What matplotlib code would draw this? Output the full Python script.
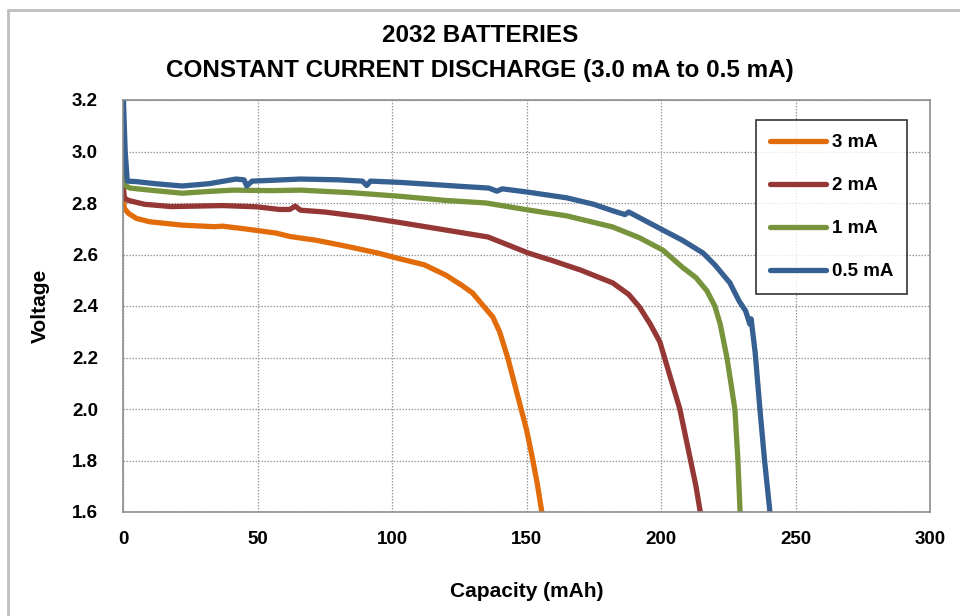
import matplotlib
matplotlib.use('Agg')
import matplotlib.pyplot as plt
from matplotlib.patches import Rectangle

# ---------------------------------------------------------------------------
# DATA

cap_3ma = [0, 0.5, 2, 5, 10, 22, 34, 37, 45, 57, 62, 72, 84, 95, 103, 112, 120,
           126, 130, 134, 137.5, 140, 143, 146, 148, 150, 152, 154, 155.7]
volt_3ma = [2.82, 2.78, 2.76, 2.74, 2.727, 2.714, 2.708, 2.71, 2.70, 2.683, 2.67,
            2.655, 2.63, 2.605, 2.583, 2.56, 2.52, 2.48, 2.45, 2.40, 2.357, 2.30,
            2.20, 2.08, 2.0, 1.92, 1.82, 1.71, 1.6]

cap_2ma = [0, 0.5, 2, 8, 18, 37, 50, 58, 62, 64, 66, 75, 90, 103, 120, 135.7,
           150.6, 160, 170, 182, 188, 192, 196, 199.6, 203, 207, 209, 211, 213, 214.6]
volt_2ma = [2.88, 2.82, 2.81, 2.795, 2.786, 2.79, 2.785, 2.775, 2.775, 2.788, 2.772,
            2.765, 2.745, 2.724, 2.695, 2.668, 2.606, 2.575, 2.54, 2.49, 2.445, 2.396,
            2.33, 2.26, 2.14, 2.0, 1.9, 1.8, 1.7, 1.6]

cap_1ma = [0, 0.5, 2.6, 10, 22, 32, 41, 55, 66, 85, 103, 120, 135, 150.6, 165,
           182, 192, 200.7, 208, 213, 217, 220, 222, 224.5, 226, 227.5, 228.6, 229.4]
volt_1ma = [2.93, 2.87, 2.858, 2.85, 2.838, 2.845, 2.85, 2.848, 2.85, 2.84, 2.826,
            2.81, 2.80, 2.773, 2.75, 2.707, 2.665, 2.617, 2.55, 2.51, 2.46, 2.40,
            2.33, 2.20, 2.10, 1.996, 1.8, 1.6]

cap_05ma = [0, 0.8, 1.6, 5, 12, 22, 32, 42, 45, 46, 48, 55, 66, 80, 89, 90.6, 92,
            103, 115, 125, 136, 139, 141, 150, 165, 175, 182, 186.6, 188, 200.7,
            208, 215.6, 220, 225.6, 229, 231.5, 233, 233.5, 235, 236.8, 238.5,
            239.5, 240.5]
volt_05ma = [3.25, 3.0, 2.885, 2.883, 2.875, 2.866, 2.875, 2.893, 2.89, 2.866, 2.885,
             2.888, 2.893, 2.89, 2.885, 2.868, 2.885, 2.88, 2.872, 2.865, 2.858, 2.846,
             2.855, 2.843, 2.82, 2.795, 2.77, 2.755, 2.765, 2.695, 2.655, 2.606, 2.56,
             2.49, 2.42, 2.38, 2.33, 2.35, 2.22, 1.996, 1.8, 1.7, 1.6]

labels = ['3 mA', '2 mA', '1 mA', '0.5 mA']
colors = ['#e36c0a', '#953735', '#77933c', '#376092']

x_ticks = [0, 50, 100, 150, 200, 250, 300]
y_ticks = [1.6, 1.8, 2.0, 2.2, 2.4, 2.6, 2.8, 3.0, 3.2]

# ---------------------------------------------------------------------------
# PLOT

plt.rcParams['font.family'] = ['Liberation Sans Narrow', 'Liberation Sans', 'DejaVu Sans']
plt.rcParams['font.weight'] = 'bold'

fig = plt.figure(figsize=(9.6, 6.16), dpi=100)
ax = fig.add_axes([123 / 960, 104 / 616, 807 / 960, 412 / 616])

# outer chart border (Excel chart area), runs off the right and bottom edges
top = 1 - 10 / 616
fig.patches.append(Rectangle((8 / 960, -0.05), 1.2, top + 0.05,
                             transform=fig.transFigure, fill=False,
                             edgecolor='#bfbfbf', linewidth=2))

series = [(cap_3ma, volt_3ma), (cap_2ma, volt_2ma), (cap_1ma, volt_1ma), (cap_05ma, volt_05ma)]
for (cap, volt), lab, col in zip(series, labels, colors):
    ax.plot(cap, volt, color=col, linewidth=3.8, label=lab,
            solid_joinstyle='round', solid_capstyle='round')

ax.set_xlim(0, 300)
ax.set_ylim(1.6, 3.2)
ax.set_xticks(x_ticks)
ax.set_yticks(y_ticks)
ax.set_yticklabels([f'{v:.1f}' for v in y_ticks])
ax.tick_params(axis='both', length=0, labelsize=13.5)
ax.tick_params(axis='x', pad=14)
ax.tick_params(axis='y', pad=18)
ax.grid(True, color='#9a9a9a', linestyle=(0, (1.2, 1.2)), linewidth=0.9)

for s in ax.spines.values():
    s.set_color('#8c8c8c')
    s.set_linewidth(1.2)

ax.set_xlabel('Capacity (mAh)', fontsize=15, fontweight='bold', labelpad=24)
ax.set_ylabel('Voltage', fontsize=15, fontweight='bold', labelpad=16)

fig.text(0.5, 1 - 35 / 616, '2032 BATTERIES', ha='center', va='center',
         fontsize=17.5, fontweight='bold')
fig.text(0.5, 1 - 70 / 616, 'CONSTANT CURRENT DISCHARGE (3.0 mA to 0.5 mA)',
         ha='center', va='center', fontsize=17.5, fontweight='bold')

leg = ax.legend(loc='upper right', bbox_to_anchor=(907 / 960, 1 - 120 / 616),
                bbox_transform=fig.transFigure, fontsize=13.5, frameon=True,
                fancybox=False, edgecolor='black', handlelength=3.0,
                labelspacing=1.38, borderpad=0.75, handletextpad=0.3,
                borderaxespad=0)
leg.get_frame().set_linewidth(1.2)

fig.savefig('out.png', dpi=100)
